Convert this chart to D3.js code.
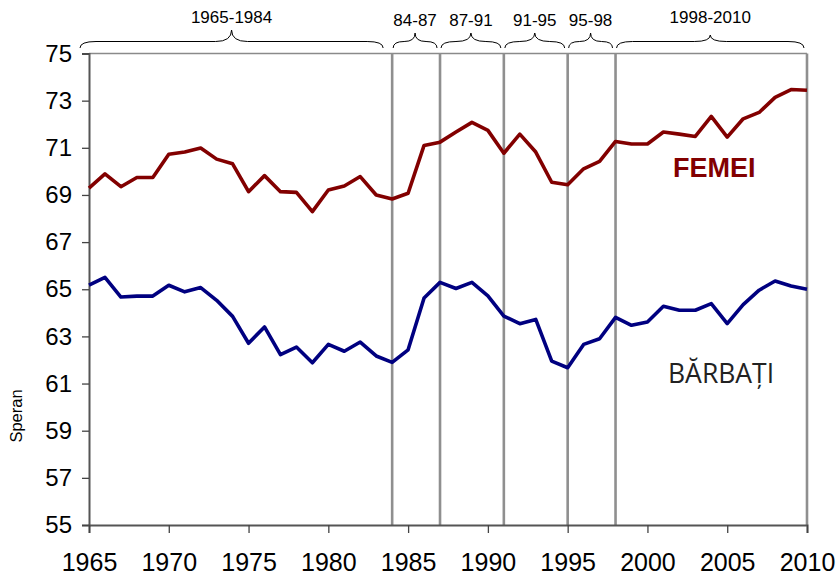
<!DOCTYPE html>
<html><head><meta charset="utf-8">
<script src="https://cdn.jsdelivr.net/npm/d3@7"></script>
<style>body{margin:0;background:#fff}</style>
</head><body><svg id="c" width="838" height="576"></svg>
<script>
const years = [1965,1966,1967,1968,1969,1970,1971,1972,1973,1974,1975,1976,1977,1978,1979,1980,1981,1982,1983,1984,
  1985,1986,1987,1988,1989,1990,1991,1992,1993,1994,1995,1996,1997,1998,1999,2000,2001,2002,2003,2004,2005,2006,2007,2008,2009,2010];
const femei = [69.29,69.89,69.35,69.74,69.74,70.73,70.82,70.99,70.52,70.32,69.14,69.82,69.14,69.11,68.29,69.21,69.38,69.78,69.00,68.83,
  69.07,71.10,71.24,71.67,72.08,71.74,70.77,71.58,70.82,69.54,69.43,70.11,70.42,71.27,71.16,71.16,71.67,71.58,71.48,72.33,71.45,72.23,72.50,73.14,73.47,73.44];
const barbati = [65.17,65.50,64.67,64.71,64.71,65.17,64.89,65.07,64.53,63.85,62.71,63.40,62.23,62.55,61.88,62.66,62.37,62.76,62.17,61.90,
  62.43,64.63,65.29,65.03,65.29,64.72,63.86,63.54,63.72,61.95,61.67,62.66,62.90,63.81,63.47,63.61,64.28,64.11,64.11,64.39,63.54,64.35,64.96,65.35,65.14,65.00];
const yTicks = [55,57,59,61,63,65,67,69,71,73,75];
const xTicks = [1965,1970,1975,1980,1985,1990,1995,2000,2005,2010];
const periodLabels = ["1965-1984","84-87","87-91","91-95","95-98","1998-2010"];
const periodStart = [1965,1984,1987,1991,1995,1998];
const periodEnd = [1984,1987,1991,1995,1998,2010];
const boundaries = [1984,1987,1991,1995,1998,2010];

const svg = d3.select("#c");
const x = d3.scaleLinear().domain([1965,2010]).range([89,807]);
const y = d3.scaleLinear().domain([55,75]).range([525,53.5]);
const font = "'Liberation Sans', Arial, sans-serif";

// top border
svg.append("line").attr("x1",x(1965)).attr("x2",x(2010)).attr("y1",y(75)).attr("y2",y(75))
  .attr("stroke","#8a8a8a").attr("stroke-width",1.5);

// period vertical lines
svg.selectAll("line.per").data(boundaries).join("line").attr("class","per")
  .attr("x1",d=>x(d)).attr("x2",d=>x(d)).attr("y1",y(75)).attr("y2",y(55))
  .attr("stroke","#8f8f8f").attr("stroke-width",2.6);

// axes
const ax = svg.append("g").attr("transform",`translate(${x(1965)},0)`)
  .call(d3.axisLeft(y).tickValues(yTicks).tickSize(7).tickPadding(10).tickFormat(d3.format("d")));
ax.select(".domain").attr("stroke","#555").attr("stroke-width",2);
ax.selectAll(".tick line").attr("stroke","#444").attr("stroke-width",1.3);
ax.selectAll("text").attr("font-family",font).attr("font-size",24).attr("fill","#000");

const bx = svg.append("g").attr("transform",`translate(0,${y(55)})`)
  .call(d3.axisBottom(x).tickValues(xTicks).tickSize(8).tickPadding(20).tickFormat(d3.format("d")));
bx.select(".domain").attr("stroke","#555").attr("stroke-width",2);
bx.selectAll(".tick line").attr("stroke","#444").attr("stroke-width",1.3);
bx.selectAll("text").attr("font-family",font).attr("font-size",25).attr("fill","#000");

// y title
svg.append("text").attr("transform","translate(22,416) rotate(-90)").attr("text-anchor","middle")
  .style("font-family",font).style("font-size","16.5px").text("Speran");

// lines
const line = d3.line().x((d,i)=>x(years[i])).y(d=>y(d));
svg.append("path").datum(femei).attr("d",line).attr("fill","none")
  .attr("stroke","#820000").attr("stroke-width",3.6).attr("stroke-linejoin","round");
svg.append("path").datum(barbati).attr("d",line).attr("fill","none")
  .attr("stroke","#000080").attr("stroke-width",3.6).attr("stroke-linejoin","round");

// braces
function brace(x1,x2,yb,yl,yt){
  const xm=(x1+x2)/2, r=Math.min((x2-x1)/4,16);
  return `M${x1},${yb} Q${x1},${yl} ${x1+r},${yl} L${xm-r},${yl} Q${xm},${yl} ${xm},${yt} Q${xm},${yl} ${xm+r},${yl} L${x2-r},${yl} Q${x2},${yl} ${x2},${yb}`;
}
periodLabels.forEach((lab,i)=>{
  const big = (i===0 || i===5);
  const x1 = x(periodStart[i]) + (i===0 ? -9 : 1);
  const x2 = x(periodEnd[i]) + (i===0 ? -9 : -3);
  const yt = i===0 ? 30 : (i===5 ? 35 : 33);
  svg.append("path").attr("d",brace(x1,x2,48,41.5,yt)).attr("fill","none")
    .attr("stroke","#000").attr("stroke-width",1);
  svg.append("text").attr("x",(x1+x2)/2).attr("y",big?23:26).attr("text-anchor","middle")
    .style("font-family",font).style("font-size","17px").text(lab);
});

// series labels
svg.append("text").attr("x",673).attr("y",177).style("font-family",font).style("font-weight","bold")
  .style("font-size","27px").attr("fill","#820000").text("FEMEI");
svg.append("text").attr("x",668).attr("y",383).style("font-family","'Open Sans', sans-serif")
  .style("font-size","26.5px").attr("fill","#222").text("BĂRBAȚI");
</script></body></html>
